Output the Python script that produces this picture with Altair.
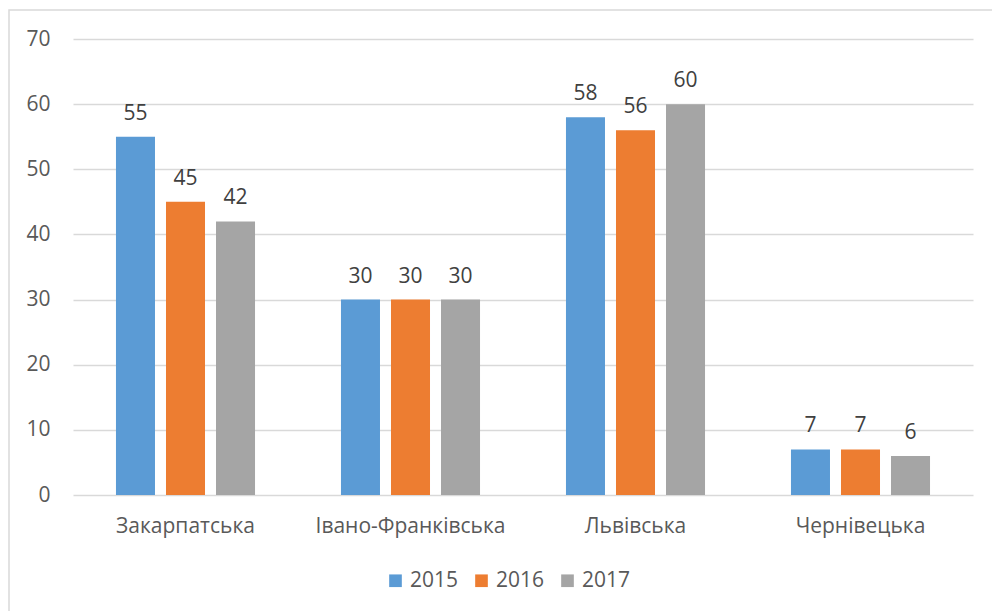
import altair as alt
import pandas as pd

regions = ["Закарпатська", "Івано-Франківська", "Львівська", "Чернівецька"]
years = ["2015", "2016", "2017"]
v2015 = [55, 30, 58, 7]
v2016 = [45, 30, 56, 7]
v2017 = [42, 30, 60, 6]
colors = ["#5B9BD5", "#ED7D31", "#A5A5A5"]
y_ticks = [0, 10, 20, 30, 40, 50, 60, 70]

rows = []
for yr, vals in zip(years, [v2015, v2016, v2017]):
    for r, v in zip(regions, vals):
        rows.append({"region": r, "year": yr, "value": v})
df = pd.DataFrame(rows)

FONT = "Open Sans"
FS = 21

x_enc = alt.X("region:N", sort=regions,
              scale=alt.Scale(paddingInner=0.382, paddingOuter=0.191),
              axis=alt.Axis(title=None, labelAngle=0, domain=False, ticks=False,
                            labelFontSize=FS, labelColor="#595959", labelFont=FONT,
                            labelPadding=20, labelLimit=400))
xo_enc = alt.XOffset("year:N", sort=years,
                     scale=alt.Scale(paddingInner=0.22, paddingOuter=0))
y_enc = alt.Y("value:Q", scale=alt.Scale(domain=[0, 70], nice=False),
              axis=alt.Axis(title=None, values=y_ticks, domain=False, ticks=False,
                            grid=True, gridColor="#D9D9D9", gridWidth=1.5,
                            labelFontSize=FS, labelColor="#595959", labelFont=FONT,
                            labelPadding=23))

base = alt.Chart(df)

bars = base.mark_bar().encode(
    x=x_enc,
    xOffset=xo_enc,
    y=y_enc,
    color=alt.Color("year:N", sort=years,
                    scale=alt.Scale(domain=years, range=colors),
                    legend=alt.Legend(title=None, orient="none", direction="horizontal",
                                      legendX=312, legendY=531,
                                      symbolType="square", symbolSize=160,
                                      symbolStrokeWidth=0, labelFontSize=FS,
                                      labelColor="#595959", labelFont=FONT,
                                      labelOffset=4, columnPadding=12)),
)

labels = base.mark_text(baseline="alphabetic", dy=-17, fontSize=FS,
                        color="#404040", font=FONT).encode(
    x=x_enc,
    xOffset=xo_enc,
    y=y_enc,
    text=alt.Text("value:Q"),
)

frame = alt.Chart(pd.DataFrame({"a": [0]})).mark_rect(
    fillOpacity=0, stroke="#D9D9D9", strokeWidth=1.5
).encode(
    x=alt.value(-64), x2=alt.value(1000), y=alt.value(-29), y2=alt.value(700)
)

chart = alt.layer(frame, bars, labels).properties(
    width=900, height=456,
    autosize=alt.AutoSizeParams(type="none"),
    padding={"left": 73, "top": 39, "right": 19, "bottom": 116},
    background="white",
).configure_view(stroke=None)

chart.save("out.html", embed_options={"renderer": "svg", "actions": False})
